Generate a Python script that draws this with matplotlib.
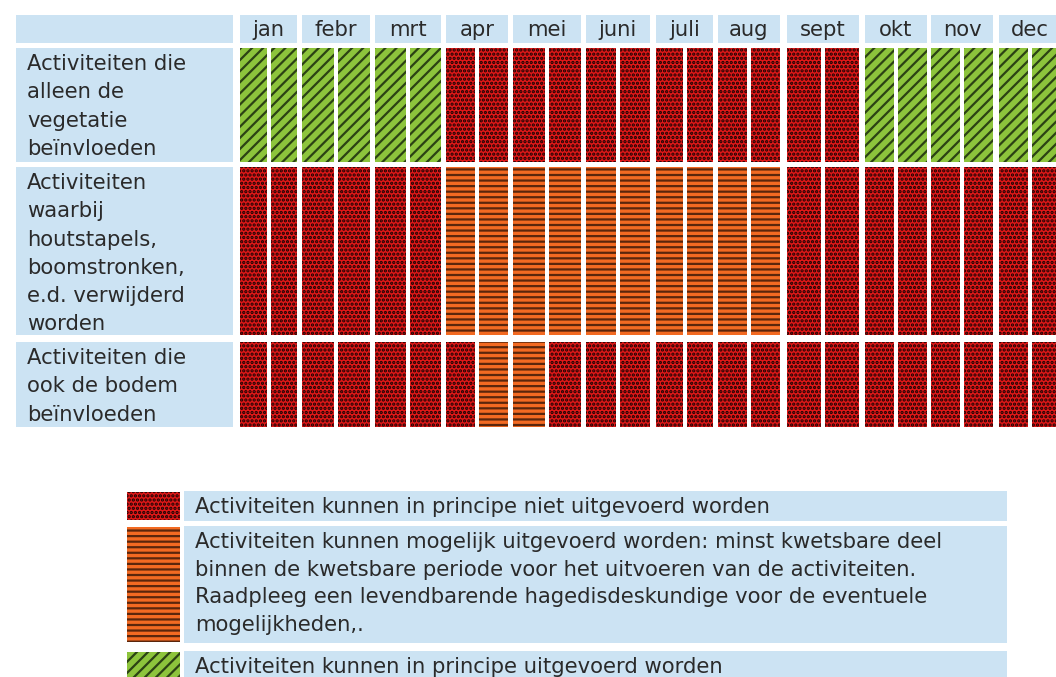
# Werkperiodes levendbarende hagedis - tabel met patronen
import matplotlib
matplotlib.use('Agg')
import matplotlib.pyplot as plt
from matplotlib.patches import Rectangle

# ==========
# Data
# ==========
months = ['jan', 'febr', 'mrt', 'apr', 'mei', 'juni',
          'juli', 'aug', 'sept', 'okt', 'nov', 'dec']

row_labels = [
    ['Activiteiten die', 'alleen de', 'vegetatie', 'beïnvloeden'],
    ['Activiteiten', 'waarbij', 'houtstapels,', 'boomstronken,',
     'e.d. verwijderd', 'worden'],
    ['Activiteiten die', 'ook de bodem', 'beïnvloeden'],
]

# status per halve maand: N = niet, M = mogelijk, J = wel uitvoerbaar
status_vegetatie = ['J', 'J', 'J', 'J', 'J', 'J',
                    'N', 'N', 'N', 'N', 'N', 'N', 'N', 'N', 'N', 'N', 'N', 'N',
                    'J', 'J', 'J', 'J', 'J', 'J']
status_houtstapels = ['N', 'N', 'N', 'N', 'N', 'N',
                      'M', 'M', 'M', 'M', 'M', 'M', 'M', 'M', 'M', 'M',
                      'N', 'N', 'N', 'N', 'N', 'N', 'N', 'N']
status_bodem = ['N', 'N', 'N', 'N', 'N', 'N', 'N',
                'M', 'M',
                'N', 'N', 'N', 'N', 'N', 'N', 'N', 'N', 'N', 'N', 'N', 'N', 'N', 'N', 'N']
row_status = [status_vegetatie, status_houtstapels, status_bodem]

legend_codes = ['N', 'M', 'J']
legend_texts = [
    ['Activiteiten kunnen in principe niet uitgevoerd worden'],
    ['Activiteiten kunnen mogelijk uitgevoerd worden: minst kwetsbare deel',
     'binnen de kwetsbare periode voor het uitvoeren van de activiteiten.',
     'Raadpleeg een levendbarende hagedisdeskundige voor de eventuele',
     'mogelijkheden,.'],
    ['Activiteiten kunnen in principe uitgevoerd worden'],
]

# ==========
# Layout / stijl (pixels)
# ==========
BG = '#cce3f3'
TXT = '#2a2a2a'
FS = 15.2
LINE = 28.3

styles = {
    'N': dict(facecolor='#e01818', edgecolor='#140404', hatch='....'),
    'M': dict(facecolor='#f26a22', edgecolor='#5a260c', hatch='---'),
    'J': dict(facecolor='#8dc43c', edgecolor='#2c4214', hatch='///'),
}

month_left = [240, 302, 375, 446, 513, 586, 656, 718, 787, 865, 931, 999]
month_width = [57, 68, 66, 62, 68, 64, 57, 62, 72, 62, 62, 62]
inner_gap = 4

label_x0, label_x1 = 16, 233
header_y = (15, 43)
row_y = [(48, 162), (167, 335), (342, 427)]

plt.rcParams['hatch.linewidth'] = 1.6

fig = plt.figure(figsize=(10.56, 6.77), dpi=100)
ax = fig.add_axes([0, 0, 1, 1])
ax.set_xlim(0, 1056)
ax.set_ylim(677, 0)
ax.axis('off')


def box(x0, y0, x1, y1, **kw):
    ax.add_patch(Rectangle((x0, y0), x1 - x0, y1 - y0, **kw))


def pattern(x0, y0, x1, y1, code):
    box(x0, y0, x1, y1, linewidth=0, **styles[code])


# header
box(label_x0, header_y[0], label_x1, header_y[1], facecolor=BG, linewidth=0)
for m, name in enumerate(months):
    x0 = month_left[m]
    box(x0, header_y[0], x0 + month_width[m], header_y[1], facecolor=BG, linewidth=0)
    ax.text(x0 + month_width[m] / 2, sum(header_y) / 2 + 1, name,
            fontsize=FS, color=TXT, ha='center', va='center')

# rijen
for r, (y0, y1) in enumerate(row_y):
    box(label_x0, y0, label_x1, y1, facecolor=BG, linewidth=0)
    for k, line in enumerate(row_labels[r]):
        ax.text(27, y0 + 16 + k * LINE, line, fontsize=FS, color=TXT,
                ha='left', va='center')
    for i, code in enumerate(row_status[r]):
        m, h = divmod(i, 2)
        cw = (month_width[m] - inner_gap) / 2
        x0 = month_left[m] + h * (cw + inner_gap)
        pattern(x0, y0, x0 + cw, y1, code)

# legenda
leg_y = [(491, 521), (526, 643), (651, 690)]
for j, code in enumerate(legend_codes):
    y0, y1 = leg_y[j]
    pattern(127, y0 + 1, 180, y1 - 1, code)
    box(184, y0, 1007, y1, facecolor=BG, linewidth=0)
    for k, line in enumerate(legend_texts[j]):
        ax.text(195, y0 + 16 + k * 27.7, line, fontsize=FS, color=TXT,
                ha='left', va='center')

plt.savefig('out.png', dpi=100)
